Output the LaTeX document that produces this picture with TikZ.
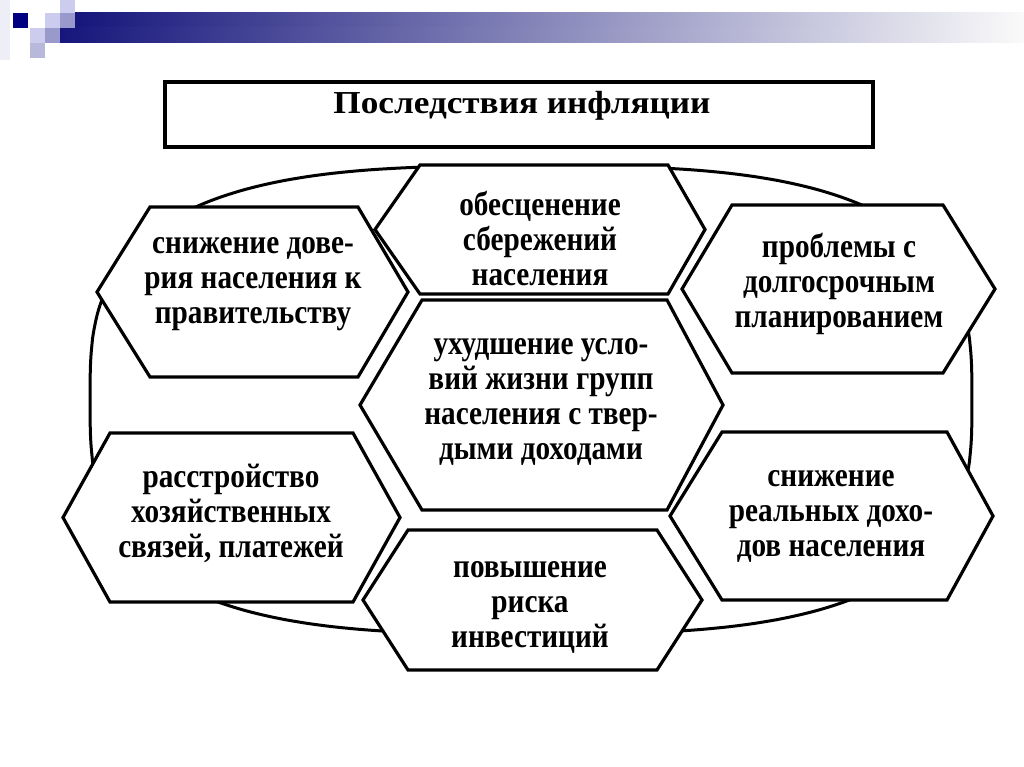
\documentclass[tikz,border=0pt]{standalone}
\usepackage{fontspec}
\setmainfont{Liberation Serif}
\newfontfamily\hexfont{Liberation Serif}[FakeStretch=0.86]
\newfontfamily\titlefont{Liberation Serif}[FakeStretch=1.1]
\definecolor{navysq}{HTML}{000080}
\definecolor{lavlight}{HTML}{CCCCEE}
\definecolor{lavmid}{HTML}{9999CC}
\definecolor{lavpale}{HTML}{EEEEF6}
\definecolor{barnavy}{HTML}{16167C}
\definecolor{barend}{HTML}{FAFAFA}
\tikzset{
  hexline/.style={draw=black, line width=3.2pt, fill=white},
  ellline/.style={draw=black, line width=3pt},
  titlebox/.style={draw=black, line width=4pt, fill=white, minimum width=708pt, minimum height=65pt, inner sep=0pt},
  titletext/.style={font={\titlefont\bfseries\fontsize{32}{34}\selectfont}, inner sep=0pt},
  hextext/.style={align=center, inner sep=0pt, font={\hexfont\bfseries\fontsize{34}{35}\selectfont\lineskiplimit=-30pt}},
}
% xL xTL xTR xR yT yB
\newcommand{\hexshape}[6]{%
  \draw[hexline] (#1,{(#5+#6)/2}) -- (#2,#5) -- (#3,#5) -- (#4,{(#5+#6)/2}) -- (#3,#6) -- (#2,#6) -- cycle;}
\begin{document}
\begin{tikzpicture}[x=1pt,y=-1pt]
\useasboundingbox (0,0) rectangle (1024,767);
\fill[white] (0,0) rectangle (1024,767);
% template decoration
\fill[lavpale] (0,0) rectangle (10,60);
\shade[left color=barnavy, right color=barend] (75,13) rectangle (1024,28);
\shade[left color=barnavy, right color=barend] (60,28) rectangle (1024,43);
\fill[navysq] (13,13) rectangle (28,28);
\fill[lavlight] (45,13) rectangle (60,28);
\fill[lavlight] (60,0) rectangle (75,13);
\fill[lavmid] (60,13) rectangle (75,28);
\fill[lavlight] (30,28) rectangle (45,43);
\fill[lavmid] (45,28) rectangle (60,43);
\fill[lavmid!70!white] (30,43) rectangle (45,58);
% title
\node[titlebox] (titlebox) at (519,114.5) {};
\node[titletext] (title) at (522,106) {Последствия инфляции};
% big rounded outline
\draw[ellline] plot[domain=0.5:359.5, samples=360]
  ({531+441*cos(\x)/abs(cos(\x))*pow(abs(cos(\x)),2/3)},
   {400+234*sin(\x)/abs(sin(\x))*pow(abs(sin(\x)),2/3)}) -- cycle;
% hexagons
\hexshape{97}{150}{358}{408}{207}{377}
\hexshape{375}{420}{668}{705}{165}{294}
\hexshape{682}{732}{943}{995}{205}{373}
\hexshape{360}{422}{667}{723}{300}{510}
\hexshape{63}{110}{353}{400}{433}{602}
\hexshape{363}{408}{657}{702}{530}{670}
\hexshape{670}{722}{947}{993}{432}{600}
% texts
\node[hextext] (trust) at (253,284) {снижение дове-\\рия населения к\\правительству};
\node[hextext] (savings) at (540,238) {обесценение\\сбережений\\населения};
\node[hextext] (planning) at (839,284) {проблемы с\\долгосрочным\\планированием};
\node[hextext] (living) at (541,402) {ухудшение усло-\\вий жизни групп\\населения с твер-\\дыми доходами};
\node[hextext] (links) at (231,513) {расстройство\\хозяйственных\\связей, платежей};
\node[hextext] (risk) at (530,607) {повышение\\риска\\инвестиций};
\node[hextext] (income) at (831,516) {снижение\\реальных дохо-\\дов населения};
\end{tikzpicture}
\end{document}
